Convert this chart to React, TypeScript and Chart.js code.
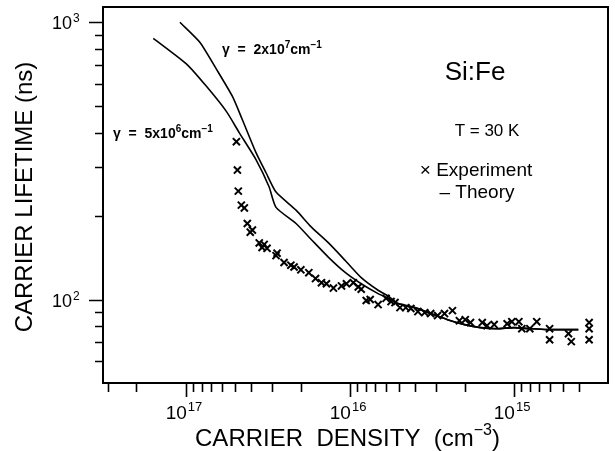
import React, { useEffect, useRef } from 'react';
import { Chart, registerables } from 'chart.js';

Chart.register(...registerables);

// ---- data (carrier density in cm^-3, lifetime in ns) ----
const lowGammaN = [1.58e17, 9.86e16, 7.47e16, 5.65e16, 4.72e16, 3.73e16, 3.11e16, 2.82e16, 2.13e16, 1.71e16, 1.35e16, 1.064e16, 8.53e15, 6.73e15, 5.85e15];
const lowGammaTau = [875, 705, 586, 476, 399, 319, 255, 215, 188, 164, 142, 125, 114, 105, 101];

const highGammaN = [1.087e17, 8.22e16, 6.5e16, 5.2e16, 4.53e16, 3.73e16, 3.24e16, 2.82e16, 2.13e16, 1.71e16, 1.35e16, 1.064e16, 8.53e15, 6.73e15, 5.85e15];
const highGammaTau = [1000, 847, 676, 540, 446, 338, 286, 244, 210, 182, 160, 138, 120, 108, 103];

const tailN = [5.09e15, 4.02e15, 3.22e15, 2.54e15, 2.0e15, 1.6e15, 1.27e15, 1.0e15, 8.0e14, 6.32e14, 4.05e14];
const tailTau = [96.7, 93.5, 89.0, 84.6, 81.2, 79.2, 78.5, 79.2, 78.5, 77.9, 77.9];

const expN = [4.92e16, 4.85e16, 4.79e16, 4.59e16, 4.40e16, 4.22e16, 4.05e16, 3.93e16, 3.57e16, 3.43e16, 3.33e16, 3.20e16, 2.82e16, 2.78e16, 2.52e16, 2.29e16, 2.19e16, 1.99e16, 1.78e16, 1.62e16, 1.49e16, 1.39e16, 1.26e16, 1.125e16, 1.05e16, 9.53e15, 8.89e15, 8.53e15, 7.95e15, 7.52e15, 6.73e15, 6.02e15, 5.61e15, 5.31e15, 4.95e15, 4.56e15, 4.25e15, 3.85e15, 3.50e15, 3.22e15, 2.92e15, 2.65e15, 2.37e15, 2.15e15, 1.98e15, 1.84e15, 1.56e15, 1.46e15, 1.32e15, 1.10e15, 1.03e15, 9.33e14, 8.95e14, 8.0e14, 7.26e14, 6.06e14, 6.06e14, 4.65e14, 4.47e14, 3.48e14, 3.48e14, 3.48e14];
const expTau = [371, 293, 246, 219, 214, 188, 175, 178, 160, 154, 158, 153, 144, 147, 136, 133, 131, 128, 125, 119, 115, 114, 110, 112, 114, 115, 111, 109, 99.2, 100, 95.9, 101, 98.3, 97.5, 93.5, 93.5, 92.8, 90.5, 89.7, 89.0, 87.5, 89.0, 91.2, 83.9, 84.6, 82.6, 82.6, 80.5, 81.2, 81.8, 83.2, 83.2, 78.5, 78.5, 83.2, 78.5, 71.6, 75.3, 70.5, 82.6, 78.5, 71.6];

// ---- axis ticks ----
const xMajorTicks = [1e17, 1e16, 1e15];
const xMajorExp = ['17', '16', '15'];
const xMinorTicks = [3e17, 2e17, 9e16, 8e16, 7e16, 6e16, 5e16, 4e16, 3e16, 2e16, 9e15, 8e15, 7e15, 6e15, 5e15, 4e15, 3e15, 2e15, 9e14, 8e14, 7e14, 6e14, 5e14, 4e14];
const yMajorTicks = [100, 1000];
const yMajorExp = ['2', '3'];
const yMinorTicks = [60, 70, 80, 90, 200, 300, 400, 500, 600, 700, 800, 900];

const X_MIN = 2.67e14;
const X_MAX = 3.2e17;
const Y_MIN = 50;
const Y_MAX = 1135;

const FONT = "'Liberation Sans', Arial, Helvetica, sans-serif";

type Seg = [string, number, number, string?];

function drawSegs(ctx: CanvasRenderingContext2D, x: number, y: number, segs: Seg[], align: 'left' | 'center' | 'right' = 'left') {
  let total = 0;
  for (const [t, size, , w] of segs) {
    ctx.font = `${w || 'normal'} ${size}px ${FONT}`;
    total += ctx.measureText(t).width;
  }
  let cx = align === 'center' ? x - total / 2 : align === 'right' ? x - total : x;
  ctx.textAlign = 'left';
  ctx.textBaseline = 'alphabetic';
  for (const [t, size, dy, w] of segs) {
    ctx.font = `${w || 'normal'} ${size}px ${FONT}`;
    ctx.fillText(t, cx, y + dy);
    cx += ctx.measureText(t).width;
  }
}

const decorPlugin = {
  id: 'decor',
  afterDraw(chart: any) {
    const ctx: CanvasRenderingContext2D = chart.ctx;
    const { left, right, top, bottom } = chart.chartArea;
    const xs = chart.scales.x;
    const ys = chart.scales.y;
    ctx.save();
    ctx.strokeStyle = '#000';
    ctx.fillStyle = '#000';
    // frame
    ctx.lineWidth = 2;
    ctx.strokeRect(left, top, right - left, bottom - top);

    // x ticks
    ctx.lineWidth = 1.6;
    ctx.beginPath();
    for (const v of xMajorTicks) {
      const px = Math.round(xs.getPixelForValue(v)) + 0.5;
      ctx.moveTo(px, bottom);
      ctx.lineTo(px, bottom + 14);
    }
    for (const v of xMinorTicks) {
      const px = Math.round(xs.getPixelForValue(v)) + 0.5;
      ctx.moveTo(px, bottom);
      ctx.lineTo(px, bottom + 9);
    }
    // y ticks
    for (const v of yMajorTicks) {
      const py = Math.round(ys.getPixelForValue(v)) + 0.5;
      ctx.moveTo(left, py);
      ctx.lineTo(left - 14, py);
    }
    for (const v of yMinorTicks) {
      const py = Math.round(ys.getPixelForValue(v)) + 0.5;
      ctx.moveTo(left, py);
      ctx.lineTo(left - 8, py);
    }
    ctx.stroke();

    // x tick labels
    xMajorTicks.forEach((v, i) => {
      const px = xs.getPixelForValue(v);
      drawSegs(ctx, px + 1, bottom + 36, [['10', 19, 0]], 'right');
      drawSegs(ctx, px + 2, bottom + 28, [[xMajorExp[i], 13, 0]], 'left');
    });
    // y tick labels
    yMajorTicks.forEach((v, i) => {
      const py = ys.getPixelForValue(v);
      drawSegs(ctx, left - 31, py + 7, [['10', 18, 0]], 'right');
      drawSegs(ctx, left - 30, py, [[yMajorExp[i], 12, 0]], 'left');
    });

    // axis titles
    drawSegs(ctx, (left + right) / 2 - 8, bottom + 63, [
      ['CARRIER  DENSITY  (cm', 24, 0],
      ['\u22123', 16, -11],
      [')', 24, 0],
    ], 'center');
    ctx.save();
    ctx.translate(25, 197);
    ctx.rotate(-Math.PI / 2);
    ctx.font = `24px ${FONT}`;
    ctx.textAlign = 'center';
    ctx.textBaseline = 'middle';
    ctx.fillText('CARRIER LIFETIME (ns)', 0, 0);
    ctx.restore();

    // annotations
    drawSegs(ctx, 222, 54, [
      ['\u03b3  =  2x10', 14, 0, 'bold'],
      ['7', 10, -6, 'bold'],
      ['cm', 14, 0, 'bold'],
      ['\u22121', 10, -6, 'bold'],
    ]);
    drawSegs(ctx, 113, 138, [
      ['\u03b3  =  5x10', 14, 0, 'bold'],
      ['6', 10, -6, 'bold'],
      ['cm', 14, 0, 'bold'],
      ['\u22121', 10, -6, 'bold'],
    ]);
    drawSegs(ctx, 475, 80, [['Si:Fe', 26, 0]], 'center');
    drawSegs(ctx, 487, 136, [['T = 30 K', 17, 0]], 'center');
    drawSegs(ctx, 476, 176, [['\u00d7 Experiment', 19, 0]], 'center');
    drawSegs(ctx, 477, 198, [['\u2013 Theory', 19, 0]], 'center');
    ctx.restore();
  },
};

export default function App() {
  const ref = useRef<HTMLCanvasElement | null>(null);

  useEffect(() => {
    if (!ref.current) return;
    const toPts = (xs: number[], ys: number[]) => xs.map((x, i) => ({ x, y: ys[i] }));
    const chart = new Chart(ref.current, {
      type: 'scatter',
      data: {
        datasets: [
          {
            label: 'Theory \u03b3 = 5x10^6 cm^-1',
            data: toPts(lowGammaN.concat(tailN), lowGammaTau.concat(tailTau)),
            showLine: true,
            borderColor: '#000',
            borderWidth: 1.6,
            pointRadius: 0,
            tension: 0.2,
            fill: false,
          } as any,
          {
            label: 'Theory \u03b3 = 2x10^7 cm^-1',
            data: toPts(highGammaN.concat(tailN), highGammaTau.concat(tailTau)),
            showLine: true,
            borderColor: '#000',
            borderWidth: 1.6,
            pointRadius: 0,
            tension: 0.2,
            fill: false,
          } as any,
          {
            label: 'Experiment',
            data: toPts(expN, expTau),
            showLine: false,
            pointStyle: 'crossRot',
            pointRadius: 5,
            borderColor: '#000',
            backgroundColor: '#000',
            pointBorderWidth: 2,
          } as any,
        ],
      },
      options: {
        responsive: false,
        animation: false,
        devicePixelRatio: 1,
        layout: { padding: { left: 103, right: 3, top: 7, bottom: 68 } },
        plugins: { legend: { display: false }, tooltip: { enabled: false } },
        scales: {
          x: {
            type: 'logarithmic',
            reverse: true,
            min: X_MIN,
            max: X_MAX,
            ticks: { display: false },
            grid: { display: false, drawTicks: false },
            border: { display: false },
          },
          y: {
            type: 'logarithmic',
            min: Y_MIN,
            max: Y_MAX,
            ticks: { display: false },
            grid: { display: false, drawTicks: false },
            border: { display: false },
          },
        },
      } as any,
      plugins: [decorPlugin],
    });
    return () => chart.destroy();
  }, []);

  return (
    <div style={{ position: 'absolute', left: 0, top: 0, width: 615, height: 451, background: '#fff' }}>
      <canvas ref={ref} width={615} height={451} style={{ display: 'block' }} />
    </div>
  );
}
